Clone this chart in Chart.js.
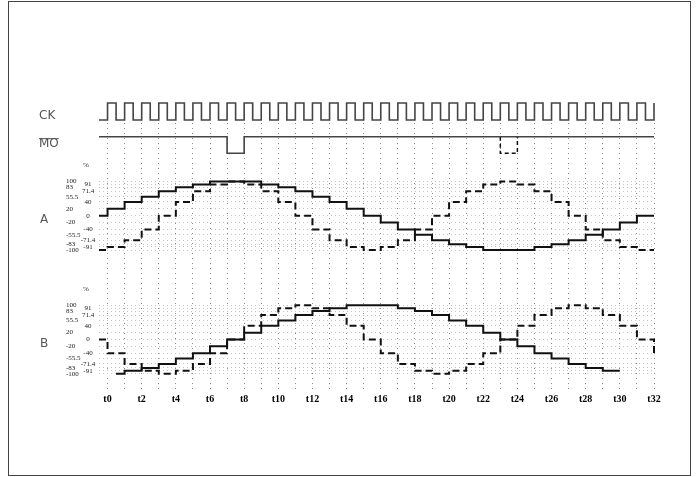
<!DOCTYPE html>
<html>
<head>
<meta charset="utf-8">
<script src="https://cdn.jsdelivr.net/npm/chart.js@4.4.0/dist/chart.umd.min.js"></script>
<style>
  html, body { margin: 0; padding: 0; background: #fff; }
  #wrap { position: relative; width: 697px; height: 477px; }
  #timing { position: absolute; left: 0; top: 0; }
  #frame { position: absolute; left: 8px; top: 1px; width: 683px; height: 475px;
           border: 1px solid #444; box-sizing: border-box; pointer-events: none; }
</style>
</head>
<body>
<div id="wrap">
  <canvas id="timing" width="697" height="477"></canvas>
  <div id="frame"></div>
</div>
<script>
"use strict";

// ===============================
// DATA
// ===============================
// step instants: half period before t0, then one step per clock period
const stepTimes = [-0.5, 0, 1, 2, 3, 4, 5, 6, 7, 8, 9, 10, 11, 12, 13, 14, 15, 16,
  17, 18, 19, 20, 21, 22, 23, 24, 25, 26, 27, 28, 29, 30, 31, 32];

const gridTimes = [0, 1, 2, 3, 4, 5, 6, 7, 8, 9, 10, 11, 12, 13, 14, 15, 16,
  17, 18, 19, 20, 21, 22, 23, 24, 25, 26, 27, 28, 29, 30, 31, 32];
const timeLabels = ["t0", "", "t2", "", "t4", "", "t6", "", "t8", "", "t10", "", "t12", "", "t14", "", "t16",
  "", "t18", "", "t20", "", "t22", "", "t24", "", "t26", "", "t28", "", "t30", "", "t32"];

// CK
const ckTimes = [-0.5,
  0, 0.5, 1, 1.5, 2, 2.5, 3, 3.5, 4, 4.5, 5, 5.5, 6, 6.5, 7, 7.5,
  8, 8.5, 9, 9.5, 10, 10.5, 11, 11.5, 12, 12.5, 13, 13.5, 14, 14.5, 15, 15.5,
  16, 16.5, 17, 17.5, 18, 18.5, 19, 19.5, 20, 20.5, 21, 21.5, 22, 22.5, 23, 23.5,
  24, 24.5, 25, 25.5, 26, 26.5, 27, 27.5, 28, 28.5, 29, 29.5, 30, 30.5, 31, 31.5,
  32];
const ckLevels = [0,
  1, 0, 1, 0, 1, 0, 1, 0, 1, 0, 1, 0, 1, 0, 1, 0,
  1, 0, 1, 0, 1, 0, 1, 0, 1, 0, 1, 0, 1, 0, 1, 0,
  1, 0, 1, 0, 1, 0, 1, 0, 1, 0, 1, 0, 1, 0, 1, 0,
  1, 0, 1, 0, 1, 0, 1, 0, 1, 0, 1, 0, 1, 0, 1, 0,
  1];

// MO
const moTimes = [-0.5, 7, 8, 32];
const moLevels = [1, 0, 1, 1];
const moAltTimes = [23, 23, 24, 24];
const moAltLevels = [1, 0, 0, 1];

// A (%)
const aSolid = [0, 20, 40, 55.5, 71.4, 83, 91, 100, 100, 100, 91, 83, 71.4, 55.5, 40, 20, 0,
  -20, -40, -55.5, -71.4, -83, -91, -100, -100, -100, -91, -83, -71.4, -55.5, -40, -20, 0, 0];
const aDashed = [-100, -91, -71.4, -40, 0, 40, 71.4, 91, 100, 91, 71.4, 40, 0, -40, -71.4, -91, -100,
  -91, -71.4, -40, 0, 40, 71.4, 91, 100, 91, 71.4, 40, 0, -40, -71.4, -91, -100, -100];

// B (%)
const bSolidTimes = [0.5, 1, 2, 3, 4, 5, 6, 7, 8, 9, 10, 11, 12, 13, 14, 15, 16,
  17, 18, 19, 20, 21, 22, 23, 24, 25, 26, 27, 28, 29, 30];
const bSolid = [-100, -91, -83, -71.4, -55.5, -40, -20, 0, 20, 40, 55.5, 71.4, 83, 91, 100, 100, 100,
  91, 83, 71.4, 55.5, 40, 20, 0, -20, -40, -55.5, -71.4, -83, -91, -91];
const bDashed = [0, -40, -71.4, -91, -100, -91, -71.4, -40, 0, 40, 71.4, 91, 100, 91, 71.4, 40, 0,
  -40, -71.4, -91, -100, -91, -71.4, -40, 0, 40, 71.4, 91, 100, 91, 71.4, 40, 0, -40];

// level ticks
const leftLevels = [100, 83, 55.5, 20, -20, -55.5, -83, -100];
const rightLevels = [91, 71.4, 40, 0, -40, -71.4, -91];
const allLevels = [100, 91, 83, 71.4, 55.5, 40, 20, 0, -20, -40, -55.5, -71.4, -83, -91, -100];

// ===============================
// LAYOUT
// ===============================
const AREA_TOP = 123;
const AREA_BOTTOM = 391;

// min/max so that value lo sits at loPx and hi at hiPx
function bandRange(lo, loPx, hi, hiPx) {
  const perUnit = (loPx - hiPx) / (hi - lo);
  return {
    min: lo - (AREA_BOTTOM - loPx) / perUnit,
    max: hi + (hiPx - AREA_TOP) / perUnit
  };
}

function toPoints(times, values) {
  return times.map((t, k) => ({ x: t, y: values[k] }));
}

function levelAxis(range) {
  return {
    type: "linear",
    position: "left",
    min: range.min,
    max: range.max,
    afterBuildTicks: axis => { axis.ticks = allLevels.map(v => ({ value: v })); },
    afterFit: axis => { axis.width = 0; },
    ticks: { display: false },
    grid: { color: "#c4c4c4", drawTicks: false, lineWidth: 1 },
    border: { display: false, dash: [1, 3] }
  };
}

function trace(label, times, values, axisID, opts) {
  return Object.assign({
    label: label,
    data: toPoints(times, values),
    yAxisID: axisID,
    borderColor: "#111",
    borderWidth: 2,
    pointRadius: 0,
    fill: false,
    stepped: "before",
    clip: false
  }, opts || {});
}

// signal names, % marks and level numbers
const bandLabels = {
  id: "bandLabels",
  afterDraw(chart) {
    const ctx = chart.ctx;
    const sc = chart.scales;
    ctx.save();
    ctx.textBaseline = "middle";

    ctx.fillStyle = "#555";
    ctx.font = '12px "DejaVu Sans"';
    ctx.textAlign = "left";
    ctx.fillText("CK", 39, sc.yCK.getPixelForValue(0.5) + 4);
    const moY = sc.yMO.getPixelForValue(0.55);
    ctx.fillText("MO", 39, moY);
    const moW = ctx.measureText("MO").width;
    ctx.strokeStyle = "#555";
    ctx.lineWidth = 1;
    ctx.beginPath();
    ctx.moveTo(39, moY - 5.5);
    ctx.lineTo(39 + moW, moY - 5.5);
    ctx.stroke();
    ctx.fillText("A", 40, sc.yA.getPixelForValue(0) + 4);
    ctx.fillText("B", 40, sc.yB.getPixelForValue(0) + 4);

    ["yA", "yB"].forEach(id => {
      const s = sc[id];
      ctx.fillStyle = "#222";
      ctx.font = '7px "Liberation Serif"';
      ctx.textAlign = "center";
      ctx.fillText("%", 86, s.getPixelForValue(148));
      ctx.textAlign = "left";
      leftLevels.forEach(v => ctx.fillText(String(v), 66, s.getPixelForValue(v)));
      ctx.textAlign = "center";
      rightLevels.forEach(v => ctx.fillText(String(v), 88, s.getPixelForValue(v)));
    });
    ctx.restore();
  }
};

new Chart(document.getElementById("timing"), {
  type: "line",
  data: {
    datasets: [
      trace("CK", ckTimes, ckLevels, "yCK", { borderColor: "#444", borderWidth: 1.6 }),
      trace("MO", moTimes, moLevels, "yMO", { borderColor: "#444", borderWidth: 1.6 }),
      trace("MO alt", moAltTimes, moAltLevels, "yMO", { stepped: false, borderWidth: 1.5, borderDash: [4, 3] }),
      trace("A solid", stepTimes, aSolid, "yA"),
      trace("A dashed", stepTimes, aDashed, "yA", { borderDash: [7, 4] }),
      trace("B solid", bSolidTimes, bSolid, "yB"),
      trace("B dashed", stepTimes, bDashed, "yB", { borderDash: [7, 4] })
    ]
  },
  options: {
    responsive: false,
    animation: false,
    devicePixelRatio: 1,
    parsing: true,
    layout: { padding: { left: 99, right: 43, top: AREA_TOP, bottom: 477 - AREA_BOTTOM - 30 } },
    plugins: {
      legend: { display: false },
      tooltip: { enabled: false }
    },
    scales: {
      x: {
        type: "linear",
        position: "bottom",
        min: -0.5,
        max: 32,
        afterBuildTicks: axis => { axis.ticks = gridTimes.map(v => ({ value: v })); },
        afterFit: axis => { axis.height = 30; },
        ticks: {
          autoSkip: false,
          maxRotation: 0,
          padding: 2,
          color: "#000",
          font: { family: "Liberation Serif", weight: "bold", size: 10 },
          callback: (v, i) => timeLabels[i]
        },
        grid: { color: "#8a8a8a", drawTicks: false, lineWidth: 1 },
        border: { display: false, dash: [1, 4] }
      },
      yCK: Object.assign({ type: "linear", display: false }, bandRange(0, 120, 1, 103)),
      yMO: Object.assign({ type: "linear", display: false }, bandRange(0, 153.3, 1, 136.7)),
      yA: levelAxis(bandRange(-100, 250, 100, 181.4)),
      yB: levelAxis(bandRange(-100, 373.8, 100, 305.2))
    }
  },
  plugins: [bandLabels]
});
</script>
</body>
</html>
